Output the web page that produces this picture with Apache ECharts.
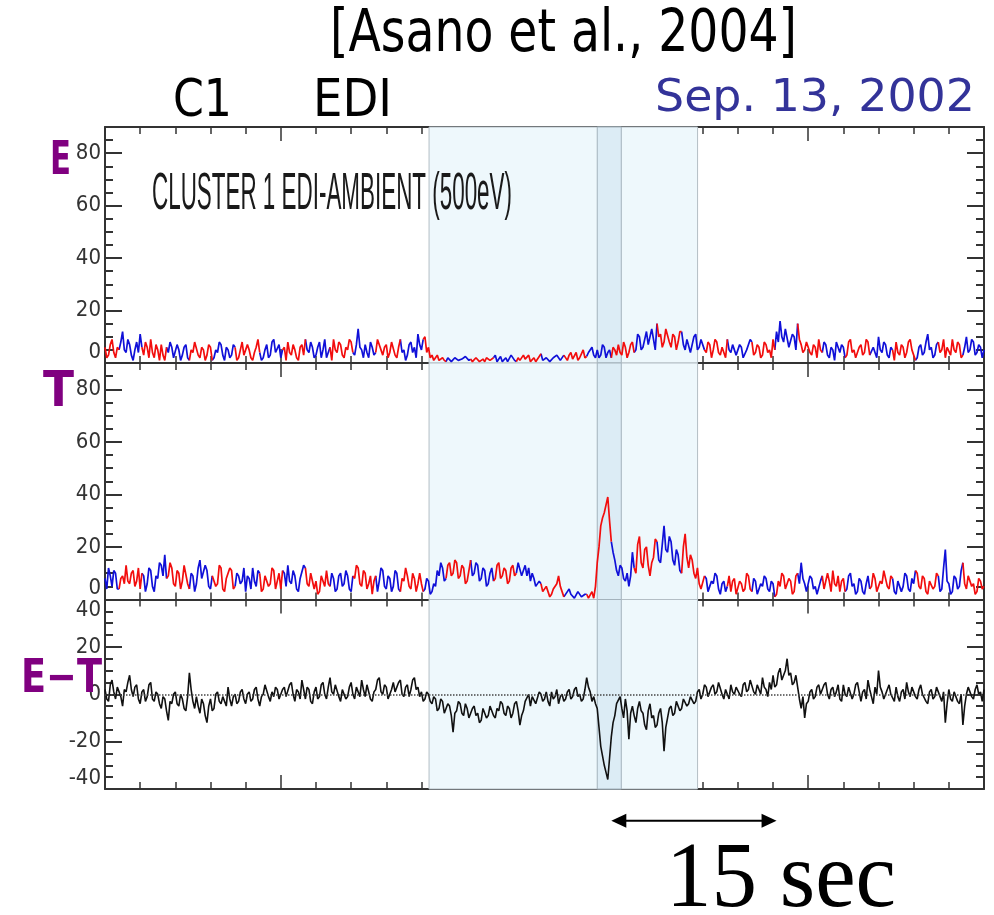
<!DOCTYPE html>
<html><head><meta charset="utf-8">
<script src="https://cdn.jsdelivr.net/npm/echarts@6/dist/echarts.min.js"></script>
<style>html,body{margin:0;padding:0;background:#fff}#c{width:994px;height:915px}</style>
</head><body><div id="c"></div>
<script>
// ---------------- data ----------------
const T_STEP = 0.15;           // seconds between samples
const TIME_RANGE = [0, 75];    // seconds shown on the time axis
// E detector counts
const E_COUNTS = [
 6,2,3,7,9,4,2,6,5,8, 12,5,4,9,7,3,1,5,8,4,
 11,6,3,8,6,2,9,4,2,7, 5,1,7,3,1,6,4,8,6,2,
 2,7,5,1,3,6,7,2,1,5, 4,8,8,3,2,6,5,1,3,7,
 6,1,2,5,4,8,7,3,1,6, 5,2,3,7,6,1,2,5,8,3,
 3,7,5,2,1,4,6,9,4,1, 2,5,7,2,3,8,9,4,4,7,
 2,5,6,1,8,4,3,7,5,2, 1,6,7,3,9,5,4,8,6,2,
 3,6,8,2,5,9,2,4,6,1, 9,5,4,8,7,3,2,6,5,9,
 8,4,3,7,13,6,5,2,7,4, 2,8,6,3,4,9,9,5,3,6,
 7,2,4,8,8,3,2,6,9,4, 5,1,3,7,8,4,6,2,11,7,
 5,9,10,4,6,2,3,1,2,3, 1,0.5,2,1,0.5,2,1.5,0.5,1,2,
 2,1,0.5,1.5,1,2.5,3,1,1.5,0.5, 0.5,2,2,0.5,1,1.5,0.5,2,2.5,1,
 1,2,3,0.5,1.5,2.5,0.5,1,2,0.5, 1,3,2.5,1,0.5,2,1,0.5,3,1.5,
 1.5,3,0.5,1,2,0.5,1,2.5,3.5,1, 1,2,2,0.5,0.5,2,1.5,3,2,1,
 1,3,2.5,1,3,4,1.5,2,4,1, 2,3.5,5,2,2.5,4,4,6,3,2,
 5,2,3,7,6,2,4,5,2,6, 5,3,7,4,3,8,6,2,4,7,
 8,4,5,11,10,5,6,9,12,7, 7,13,9,5,15,10,11,6,8,13,
 13,8,6,11,10,5,8,12,12,7, 5,9,9,4,7,10,11,5,6,9,
 9,5,4,8,7,2,5,9,8,4, 3,6,6,2,9,5,4,7,7,3,
 3,7,6,2,2,5,5,9,8,3, 4,7,6,2,3,8,7,4,5,2,
 9,5,12,8,16,10,8,13,13,6, 6,11,10,5,15,9,7,4,5,8,
 8,4,3,7,6,2,9,5,4,8, 7,3,2,6,5,1,8,6,4,7,
 6,2,3,8,9,4,5,2,2,6, 7,3,4,9,8,3,3,6,6,2,
 10,5,4,8,7,3,2,6,5,1, 8,4,3,7,6,2,4,8,9,5,
 5,1,2,6,7,3,4,8,11,5, 6,2,3,7,8,4,5,9,2,6,
 6,3,9,5,4,8,7,2,3,6, 10,4,5,9,8,3,4,7,6,2,
 5
];
// T detector counts
const T_COUNTS = [
 8,4,12,9,5,11,10,4,4,8, 9,6,13,7,6,10,11,5,7,12,
 4,10,9,3,6,12,11,5,3,9, 8,14,13,9,17,8,9,14,12,6,
 5,11,10,4,7,13,13,6,4,10, 9,3,6,12,15,8,8,13,11,5,
 4,9,9,5,6,13,12,4,3,8, 8,12,11,4,5,10,9,6,7,12,
 3,9,8,4,12,7,5,11,10,3, 4,9,9,5,6,12,11,4,7,10,
 4,11,10,5,13,7,6,11,9,4, 3,8,8,13,12,6,5,10,10,4,
 7,2,3,9,9,5,11,6,5,10, 8,3,4,9,10,5,6,11,9,4,
 3,9,8,13,12,6,5,11,10,4, 6,9,2,7,9,3,7,12,11,5,
 4,9,8,3,5,11,10,4,3,8, 7,12,9,5,4,10,8,3,6,10,
 6,3,4,8,7,2,3,6,5,11, 9,14,12,7,8,13,14,9,10,15,
 14,8,9,13,12,6,7,11,15,9, 10,14,13,7,8,12,11,5,6,10,
 12,7,8,13,14,8,9,12,11,6, 7,12,13,9,10,14,14,9,11,13,
 9,12,7,10,8,5,5,7,6,3, 3,5,5,1,2,4,4,6,9,5,
 3,1,1,3,4,2,2,0.5,1,3, 3,1,0.5,2,2,0.5,1,3,0.5,5,
 14,20,28,31,33,36,39,30,22,18, 15,11,9,13,12,8,7,10,5,9,
 18,12,10,21,24,14,12,19,20,13, 9,14,16,23,22,15,14,21,28,19,
 18,24,22,15,13,19,17,11,10,20, 25,16,12,17,15,10,8,12,6,4,
 4,9,8,3,3,7,6,10,9,4, 2,6,7,3,5,9,3,7,8,2,
 2,7,6,3,4,10,9,4,3,8, 7,2,2,6,5,9,8,4,3,7,
 6,1,2,7,5,10,9,4,4,8, 7,2,3,9,10,6,14,8,6,3,
 3,9,8,4,5,2,2,7,9,4, 4,10,7,3,11,6,5,9,3,7,
 8,3,4,9,10,5,6,2,3,8, 7,3,2,6,9,4,5,10,8,3,
 3,7,6,11,11,5,4,9,8,3, 2,7,7,3,5,10,9,4,3,8,
 6,11,10,5,4,9,8,3,2,7, 7,4,5,10,9,3,4,12,19,7,
 6,2,3,9,8,4,5,11,14,6, 4,9,9,5,6,2,3,8,7,4,
 5
];
// E-T difference
const DIFF_COUNTS = [
 2,-2,-3,4,6,1,-2,3,3,-1, -5,2,1,5,8,2,-1,3,4,-2,
 -4,1,2,-3,-1,4,5,-2,-3,1, 0,-4,-6,-1,-2,-7,-11,-3,-4,0,
 1,-4,-5,0,-2,-6,-7,-1,9,2, -3,-6,-1,-5,-8,-2,-4,-9,-12,-5,
 -2,-7,-6,0,1,-3,-4,-1,-1,-5, 3,-2,-5,-1,0,-4,-3,1,2,-2,
 -4,0,1,-3,-2,2,3,-2,-5,-1, 0,4,4,-1,-3,1,-1,3,2,-2,
 -2,2,3,-1,-1,4,5,0,-3,2, 1,-2,6,2,-2,3,2,-3,-4,1,
 3,-2,-1,4,5,0,-2,3,7,1, 0,4,4,-1,-3,2,2,-2,-1,3,
 5,0,-2,3,3,-1,6,2,-1,4, 4,-2,-3,1,2,6,7,1,0,4,
 3,-2,-2,2,5,1,1,5,6,0, -1,3,4,-1,2,6,7,2,3,-1,
 1,-3,-2,1,0,-3,-4,-1,-2,-7, -6,-2,-3,-8,-8,-4,-5,-9,-16,-8,
 -7,-3,-4,-8,-9,-4,-6,-10,-10,-6, -5,-9,-8,-12,-11,-6,-6,-10,-9,-5,
 -5,-9,-10,-6,-7,-3,-4,-8,-9,-5, -6,-10,-8,-4,-3,-7,-13,-9,-7,-3,
 -3,0,-5,-1,-1,-4,-4,1,0,-3, -2,1,-3,-5,1,-2,-1,2,-4,-1,
 0,-3,-2,1,2,-2,-1,2,3,-1, 0,-3,-2,2,7,3,1,-3,-1,-4,
 -6,-14,-22,-26,-30,-33,-36,-27,-18,-12, -9,-4,-4,-1,-6,-10,-2,-7,-19,-8,
 -5,-9,-12,-6,-3,-7,-8,-13,-15,-7, -4,-10,-9,-14,-13,-8,-6,-12,-24,-14,
 -10,-6,-5,-9,-8,-3,-3,-7,-6,-2, -2,-5,-4,-1,-1,-4,-3,1,2,-2,
 0,4,3,-1,-1,3,4,0,1,5, 5,0,-2,2,2,-2,4,1,0,3,
 3,0,-1,4,5,1,2,6,6,1, 0,4,4,0,7,3,2,-1,5,2,
 8,3,4,9,11,6,6,10,15,8, 9,4,5,8,3,-2,-6,-1,-10,-4,
 -3,1,2,-2,-1,3,4,0,0,4, 5,0,-2,2,3,-1,1,4,-2,-3,
 4,0,-1,3,3,-2,0,4,5,1, -3,1,2,-2,6,2,-1,-4,3,0,
 10,3,1,-2,-2,2,4,0,0,-3, 3,-1,-3,1,2,-2,5,1,-1,3,
 3,-1,-2,2,4,0,0,-3,-4,1, 2,-2,-1,3,3,-1,-3,1,-12,-4,
 2,-2,-3,1,1,-3,-4,0,-13,-5, 0,3,3,-1,-2,2,4,0,1,-3,
 2
];
const E_RANGE = [0, 90];
const T_RANGE = [0, 90];
const DIFF_RANGE = [-40, 40];
const Y_STEP = 20;
const TIME_MAJOR = 15;
const SHADE_LIGHT = [27.65, 50.56];  // seconds
const SHADE_DARK = [42.0, 44.05];    // seconds
const SPIN_START = 1.1, HALF_SPIN = 2.0; // colour alternation of the gun sectors
const ARROW_SPAN = [43.2, 57.3];     // "15 sec" scale arrow

// ---------------- chart ----------------
const RED = '#f20d0d', BLUE = '#1010d8', AX = '#333';
const chart = echarts.init(document.getElementById('c'), null, {renderer: 'canvas'});
const grids = [
  {left: 105, right: 10, top: 127, height: 236},
  {left: 105, right: 10, top: 363, height: 236.5},
  {left: 105, right: 10, top: 599.5, height: 189.5}
];
const LABEL_FONT = "'Liberation Sans Narrow','DejaVu Sans Condensed','Liberation Sans',sans-serif";
function xAx(g, pos) {
  return {type: 'value', gridIndex: g, position: pos, min: TIME_RANGE[0], max: TIME_RANGE[1], interval: TIME_MAJOR,
    axisLine: {show: true, onZero: false, lineStyle: {color: AX, width: 2}},
    axisTick: {show: true, inside: true, length: 14, lineStyle: {color: AX, width: 1.5}},
    minorTick: {show: true, splitNumber: 5, length: 7, lineStyle: {color: AX, width: 1.5}},
    axisLabel: {show: false}, splitLine: {show: false}, minorSplitLine: {show: false}};
}
function yAx(g, pos, range, showLab) {
  return {type: 'value', gridIndex: g, position: pos, min: range[0], max: range[1], interval: Y_STEP,
    axisLine: {show: true, onZero: false, lineStyle: {color: AX, width: 2}},
    axisTick: {show: true, inside: true, length: 17, lineStyle: {color: AX, width: 2}},
    minorTick: {show: true, splitNumber: 4, length: 8, lineStyle: {color: AX, width: 2}},
    axisLabel: {show: showLab, fontSize: 22, color: '#333', fontFamily: LABEL_FONT, margin: 4,
      showMaxLabel: range[1] % Y_STEP === 0, showMinLabel: true,
      verticalAlignMinLabel: 'bottom', verticalAlignMaxLabel: 'top'},
    splitLine: {show: false}, minorSplitLine: {show: false}};
}
const xAxes = [], yAxes = [];
[E_RANGE, T_RANGE, DIFF_RANGE].forEach((r, g) => {
  xAxes.push(xAx(g, 'bottom'), xAx(g, 'top'));
  yAxes.push(yAx(g, 'left', r, true), yAx(g, 'right', r, false));
});

const times = E_COUNTS.map((_, i) => +(i * T_STEP).toFixed(2));
function seg(t) { return t < SPIN_START ? 0 : Math.floor((t - SPIN_START) / HALF_SPIN) + 1; }
function split(values, firstRed) {
  const isRed = i => ((seg(times[i]) % 2 === 0) === firstRed);
  const red = [], blue = [];
  values.forEach((v, i) => {
    const r = isRed(i), rp = i > 0 ? isRed(i - 1) : r;
    red.push([times[i], (r || rp) ? v : null]);
    blue.push([times[i], (!r || !rp) ? v : null]);
  });
  return {red, blue};
}
const eSplit = split(E_COUNTS, true);
const tSplit = split(T_COUNTS, false);

function shadeSeries(g, extra) {
  const s = {type: 'line', xAxisIndex: 2 * g, yAxisIndex: 2 * g, data: [], z: 1, silent: true,
    markArea: {silent: true, data: [
      [{xAxis: SHADE_LIGHT[0], itemStyle: {color: '#eef8fc', borderColor: '#b4bec5', borderWidth: 1}}, {xAxis: SHADE_LIGHT[1]}],
      [{xAxis: SHADE_DARK[0], itemStyle: {color: '#dcecf5', borderColor: '#a3b2bc', borderWidth: 1}}, {xAxis: SHADE_DARK[1]}]
    ]}};
  return Object.assign(s, extra || {});
}
function lineSeries(g, data, color, w) {
  return {type: 'line', xAxisIndex: 2 * g, yAxisIndex: 2 * g, data, z: 3, showSymbol: false, symbol: 'none',
    connectNulls: false, sampling: null, lineStyle: {color, width: w}, itemStyle: {color}, silent: true};
}
const series = [
  shadeSeries(0), shadeSeries(1),
  shadeSeries(2, {markLine: {silent: true, symbol: ['none', 'none'], label: {show: false},
    lineStyle: {type: 'dotted', color: '#444', width: 1.5}, data: [{yAxis: 0}]}}),
  lineSeries(0, eSplit.blue, BLUE, 1.7), lineSeries(0, eSplit.red, RED, 1.7),
  lineSeries(1, tSplit.blue, BLUE, 1.7), lineSeries(1, tSplit.red, RED, 1.7),
  lineSeries(2, DIFF_COUNTS.map((v, i) => [times[i], v]), '#111', 1.6)
];

chart.setOption({animation: false, backgroundColor: '#fff', grid: grids, xAxis: xAxes, yAxis: yAxes, series});

// ---------------- annotations ----------------
const mctx = document.createElement('canvas').getContext('2d');
function txt(s, x, w, y, size, family, weight, color) {
  mctx.font = `${weight} ${size}px ${family}`;
  const mw = mctx.measureText(s).width;
  return {type: 'text', x, y, scaleX: w / mw, silent: true, z: 10,
    style: {text: s, fontSize: size, fontFamily: family, fontWeight: weight, fill: color,
      textAlign: 'left', textVerticalAlign: 'middle'}};
}
const SANS = '"DejaVu Sans"';
const graphics = [
  txt('[Asano et al., 2004]', 330, 467, 36, 58, SANS, 'normal', '#000'),
  txt('C1', 173, 59, 103, 51, SANS, 'normal', '#000'),
  txt('EDI', 313, 79, 103, 51, SANS, 'normal', '#000'),
  txt('Sep. 13, 2002', 655, 320, 99, 45, SANS, 'normal', '#333399'),
  txt('E', 50, 21, 162, 47, SANS, 'bold', '#800080'),
  txt('T', 43, 31, 393, 49, SANS, 'bold', '#800080'),
  txt('E\u2212T', 21, 81, 680, 46, SANS, 'bold', '#800080'),
  txt('CLUSTER 1 EDI-AMBIENT (500eV)', 152, 360, 195, 51, '"Liberation Sans"', 'normal', '#1a1a1a'),
  txt('15 sec', 666, 230, 881, 94, '"Liberation Serif"', 'normal', '#000')
];
const ax1 = chart.convertToPixel({xAxisIndex: 4}, ARROW_SPAN[0]);
const ax2 = chart.convertToPixel({xAxisIndex: 4}, ARROW_SPAN[1]);
const ay = 820.7;
graphics.push(
  {type: 'line', silent: true, shape: {x1: ax1 + 10, y1: ay, x2: ax2 - 10, y2: ay}, style: {stroke: '#000', lineWidth: 2}},
  {type: 'polygon', silent: true, shape: {points: [[ax1, ay], [ax1 + 15, ay - 7], [ax1 + 15, ay + 7]]}, style: {fill: '#000'}},
  {type: 'polygon', silent: true, shape: {points: [[ax2, ay], [ax2 - 15, ay - 7], [ax2 - 15, ay + 7]]}, style: {fill: '#000'}}
);
chart.setOption({graphic: graphics});
</script>
</body></html>
